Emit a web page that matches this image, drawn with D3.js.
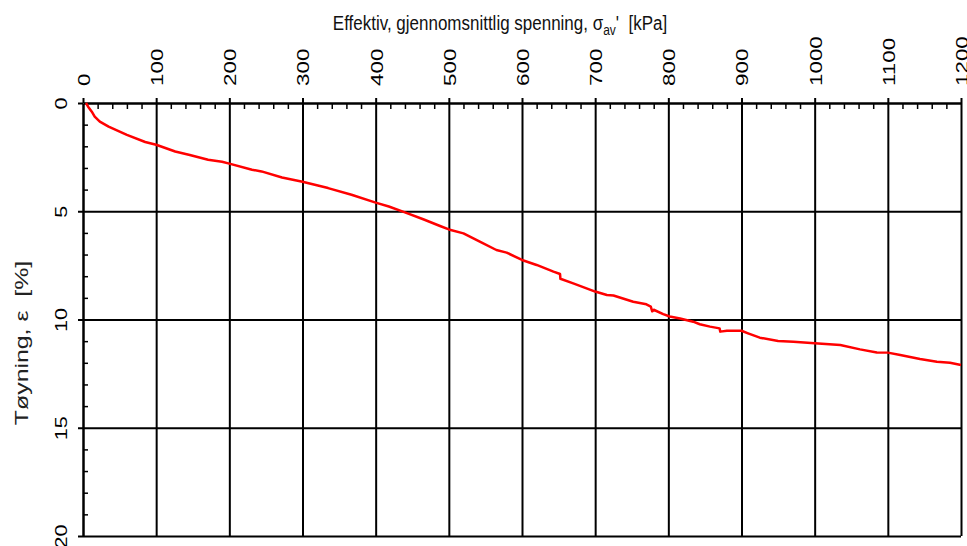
<!DOCTYPE html>
<html>
<head>
<meta charset="utf-8">
<script src="https://cdn.jsdelivr.net/npm/d3@7"></script>
<style>
  body { margin: 0; background: #fff; }
  text { font-family: "Liberation Sans", Arial, sans-serif; white-space: pre; }
</style>
</head>
<body>
<svg id="chart"></svg>
<script>
// stress (kPa) vs strain (%)
const stressKPa = [4, 7, 12, 16, 23, 35, 60, 85, 100, 126, 146, 171, 190, 200, 231, 244, 272, 300,
  335, 367, 400, 418, 440, 465, 488, 500, 520, 543, 565, 579, 600, 620, 643, 652, 652.5,
  670, 700, 716, 725, 752, 770, 776, 778, 780, 793, 802, 816, 834, 843, 857, 870, 871,
  880, 900, 909, 925, 950, 971, 1000, 1035, 1062, 1085, 1100, 1117, 1144, 1167, 1185, 1200];
const strainPct = [0, 0.17, 0.4, 0.63, 0.86, 1.09, 1.47, 1.8, 1.93, 2.24, 2.4, 2.62, 2.71, 2.8, 3.08, 3.16, 3.44, 3.64,
  3.93, 4.24, 4.6, 4.78, 5.05, 5.37, 5.68, 5.84, 6.02, 6.41, 6.79, 6.91, 7.25, 7.48, 7.79, 7.9, 8.12,
  8.33, 8.71, 8.87, 8.89, 9.18, 9.3, 9.4, 9.62, 9.55, 9.75, 9.86, 9.95, 10.1, 10.22, 10.33, 10.41, 10.56,
  10.52, 10.52, 10.64, 10.84, 10.99, 11.03, 11.1, 11.18, 11.38, 11.52, 11.53, 11.64, 11.82, 11.95, 12.0, 12.1];

const xTicks = [0, 100, 200, 300, 400, 500, 600, 700, 800, 900, 1000, 1100, 1200];
const yTicks = [0, 5, 10, 15, 20];

const width = 967, height = 546;
const margin = { top: 103, right: 6, bottom: 10, left: 83 };
const innerW = width - margin.left - margin.right;
const innerH = height - margin.top - margin.bottom;

const svg = d3.select("#chart").attr("width", width).attr("height", height);
const g = svg.append("g").attr("transform", `translate(${margin.left},${margin.top})`);

const x = d3.scaleLinear().domain([0, 1200]).range([0, innerW]);
const y = d3.scaleLinear().domain([0, 20]).range([0, innerH]);

// grid
g.append("g")
  .call(d3.axisTop(x).tickValues(xTicks.slice(1)).tickSize(-innerH).tickFormat(""))
  .call(a => a.select(".domain").remove())
  .call(a => a.selectAll("text").remove())
  .selectAll("line").attr("stroke", "#000").attr("stroke-width", 2);

g.append("g")
  .call(d3.axisLeft(y).tickValues(yTicks.slice(1)).tickSize(-innerW).tickFormat(""))
  .call(a => a.select(".domain").remove())
  .call(a => a.selectAll("text").remove())
  .selectAll("line").attr("stroke", "#000").attr("stroke-width", 2);

// minor ticks pointing inward
g.append("g")
  .call(d3.axisTop(x).tickValues(d3.range(20, 1200, 20).filter(v => v % 100 !== 0)).tickSize(-6).tickFormat(""))
  .call(a => a.select(".domain").remove())
  .call(a => a.selectAll("text").remove())
  .selectAll("line").attr("stroke", "#000").attr("stroke-width", 1.5);

g.append("g")
  .call(d3.axisLeft(y).tickValues(d3.range(1, 20).filter(v => v % 5 !== 0)).tickSize(-5).tickFormat(""))
  .call(a => a.select(".domain").remove())
  .call(a => a.selectAll("text").remove())
  .selectAll("line").attr("stroke", "#000").attr("stroke-width", 1.5);

// top axis
const xAxis = g.append("g")
  .call(d3.axisTop(x).tickValues(xTicks).tickFormat(d3.format("d")).tickSizeInner(5).tickSizeOuter(0))
  .attr("font-size", 16)
  .attr("font-family", "Liberation Sans, Arial, sans-serif");
xAxis.select(".domain").attr("stroke-width", 2.5);
xAxis.selectAll("line").attr("stroke-width", 2);
xAxis.selectAll("text")
  .attr("x", 0).attr("y", 0).attr("dy", "0.4em")
  .attr("text-anchor", "start")
  .attr("font-size", 16)
  .attr("transform", "translate(0,-17) rotate(-90) scale(1.4,1)")
  .attr("fill", "#000");

// left axis
const yAxis = g.append("g")
  .call(d3.axisLeft(y).tickValues(yTicks).tickFormat(d3.format("d")).tickSizeInner(5).tickSizeOuter(0))
  .attr("font-size", 16)
  .attr("font-family", "Liberation Sans, Arial, sans-serif");
yAxis.select(".domain").attr("stroke-width", 2.5);
yAxis.selectAll("line").attr("stroke-width", 2);
yAxis.selectAll("text")
  .attr("x", 0).attr("y", 0).attr("dy", "0")
  .attr("text-anchor", "middle")
  .attr("font-size", 16)
  .attr("transform", "translate(-16,0) rotate(-90) scale(1.35,1)")
  .attr("fill", "#000");

// curve
const pts = stressKPa.map((s, i) => [s, strainPct[i]]);
g.append("path")
  .datum(pts)
  .attr("fill", "none")
  .attr("stroke", "#ff0000")
  .attr("stroke-width", 2.5)
  .attr("stroke-linejoin", "round")
  .attr("d", d3.line().x(d => x(d[0])).y(d => y(d[1])));

// titles
const title = svg.append("text")
  .attr("transform", "translate(500,30) scale(1,1.15)")
  .attr("text-anchor", "middle")
  .attr("fill", "#111")
  .attr("font-size", 17);
title.append("tspan").text("Effektiv, gjennomsnittlig spenning, σ");
title.append("tspan").attr("dy", 4).attr("font-size", 12).text("av");
title.append("tspan").attr("dy", -4).text("'  [kPa]");

svg.append("text")
  .attr("transform", "translate(28,343) rotate(-90) scale(1.38,1)")
  .attr("text-anchor", "middle")
  .attr("fill", "#222")
  .attr("font-size", 18)
  .text("Tøyning, ε  [%]");
</script>
</body>
</html>
